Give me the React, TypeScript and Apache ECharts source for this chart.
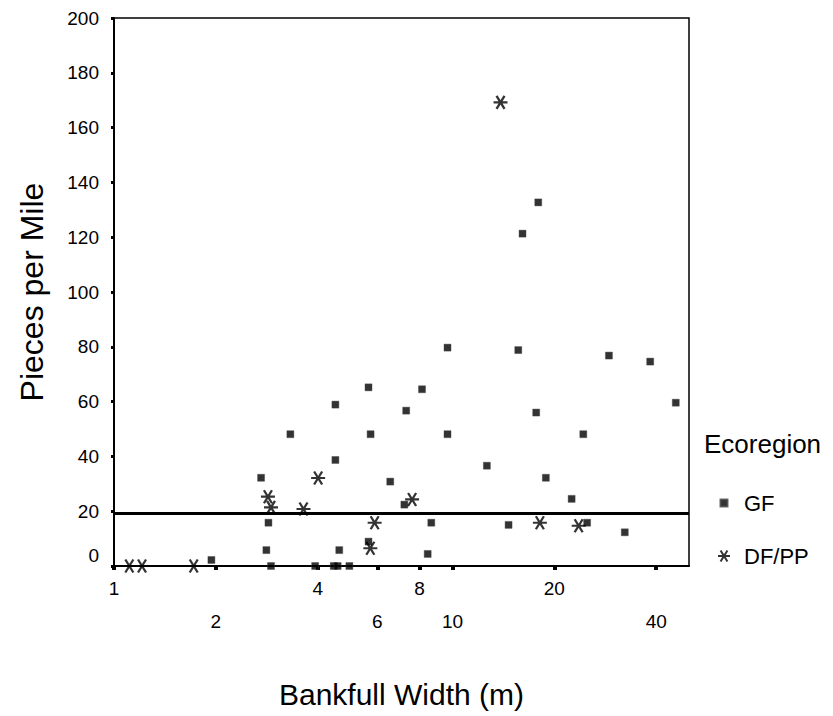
import React, { useEffect, useRef } from 'react';
import * as echarts from 'echarts';

// ---- data ----
const xTickValues = [1, 2, 4, 6, 8, 10, 20, 40];
const xMin = 1;
const xMax = 50;
const yMin = 0;
const yMax = 200;
const yStep = 20;
const referenceLevel = 19.3;

const seriesNames = ['GF', 'DF/PP'];
const legendTitle = 'Ecoregion';
const xTitle = 'Bankfull Width (m)';
const yTitle = 'Pieces per Mile';

const gfPoints: [number, number][] = [
  [1.94, 2.2], [2.72, 32.2], [2.86, 15.8], [2.82, 5.8], [2.91, 0],
  [3.32, 48.1], [3.93, 0], [4.46, 0], [4.58, 0], [4.96, 0],
  [4.51, 58.9], [4.51, 38.7], [4.63, 5.8], [5.65, 65.2], [5.73, 48.1],
  [5.65, 8.9], [6.55, 30.8], [7.3, 56.7], [7.21, 22.4], [8.13, 64.5],
  [8.66, 15.8], [8.45, 4.4], [9.67, 79.7], [9.67, 48.1], [12.64, 36.6],
  [14.65, 15.0], [15.65, 78.8], [16.11, 121.3], [17.93, 132.7], [17.68, 56.0],
  [18.88, 32.2], [22.5, 24.5], [24.36, 48.1], [25.0, 15.8], [29.0, 76.8],
  [32.3, 12.3], [38.4, 74.6], [45.7, 59.6],
];

const dfppPoints: [number, number][] = [
  [1.11, 0], [1.21, 0], [1.72, 0], [2.85, 25.3], [2.91, 21.4],
  [3.63, 20.8], [4.01, 32.1], [5.72, 6.5], [5.89, 15.8], [7.6, 24.3],
  [13.87, 169.2], [18.13, 15.8], [23.6, 14.7],
];

const ASTERISK = 'path://M-7,0L7,0M-4,-6.5L4,6.5M4,-6.5L-4,6.5';
const LEGEND_SQUARE = 'path://M0,0M12,12M2.5,2.5L9.5,2.5L9.5,9.5L2.5,9.5Z';
const FONT = '"Liberation Sans", Arial, Helvetica, sans-serif';

export default function App() {
  const ref = useRef<HTMLDivElement>(null);

  useEffect(() => {
    if (!ref.current) return;
    const chart = echarts.init(ref.current, undefined, { renderer: 'svg' });
    const option: any = {
      animation: false,
      backgroundColor: '#fff',
      textStyle: { fontFamily: FONT, color: '#000' },
      title: {
        text: legendTitle,
        left: 704,
        top: 431,
        padding: 0,
        textStyle: { fontFamily: FONT, fontSize: 26, fontWeight: 'normal', color: '#000' },
      },
      legend: {
        orient: 'vertical',
        left: 717,
        top: 492,
        padding: 0,
        itemWidth: 12,
        itemHeight: 12,
        itemGap: 31,
        textStyle: { fontFamily: FONT, fontSize: 22, color: '#000', padding: [0, 0, 0, 9], lineHeight: 22 },
        data: [
          { name: seriesNames[0], icon: LEGEND_SQUARE },
          { name: seriesNames[1], icon: ASTERISK },
        ],
      },
      grid: {
        left: 114,
        top: 18,
        right: 144,
        bottom: 150,
        show: true,
        borderColor: '#000',
        borderWidth: 1.5,
        backgroundColor: 'transparent',
      },
      xAxis: {
        type: 'log',
        logBase: 10,
        min: xMin,
        max: xMax,
        name: xTitle,
        nameLocation: 'middle',
        nameGap: 113,
        nameTextStyle: { fontFamily: FONT, fontSize: 30, color: '#000' },
        axisLine: { show: true, lineStyle: { color: '#000', width: 2 } },
        axisTick: {
          show: true,
          length: 4,
          customValues: xTickValues,
          lineStyle: { color: '#000', width: 4 },
        },
        splitLine: { show: false },
        minorTick: { show: false },
        axisLabel: {
          customValues: xTickValues,
          margin: 13,
          fontFamily: FONT,
          fontSize: 19,
          color: '#000',
          formatter: (v: number, i: number) => {
            const t = String(Math.round(v));
            const idx = xTickValues.findIndex((q) => Math.abs(q - v) < 1e-6);
            return (idx >= 0 ? idx : i) % 2 ? `{b|${t}}` : `{a|${t}}`;
          },
          rich: {
            a: { fontFamily: FONT, fontSize: 19, color: '#000' },
            b: { fontFamily: FONT, fontSize: 19, color: '#000', padding: [33, 0, 0, 0] },
          },
        },
      },
      yAxis: {
        type: 'value',
        min: yMin,
        max: yMax,
        interval: yStep,
        name: yTitle,
        nameLocation: 'middle',
        nameRotate: 90,
        nameGap: 66,
        nameTextStyle: { fontFamily: FONT, fontSize: 32, color: '#000' },
        axisLine: { show: true, lineStyle: { color: '#000', width: 2 } },
        axisTick: { show: true, length: 3, lineStyle: { color: '#000', width: 3 } },
        splitLine: { show: false },
        axisLabel: {
          margin: 15,
          fontFamily: FONT,
          fontSize: 19,
          color: '#000',
          formatter: (v: number) => (v === 0 ? '{z|0}' : String(v)),
          rich: {
            z: { fontFamily: FONT, fontSize: 19, color: '#000', padding: [0, 0, 22, 0] },
          },
        },
      },
      series: [
        {
          name: seriesNames[0],
          type: 'scatter',
          symbol: 'rect',
          symbolSize: 7,
          clip: false,
          itemStyle: { color: '#000', borderColor: '#444', borderWidth: 0.5 },
          data: gfPoints,
          z: 3,
          markLine: {
            silent: true,
            symbol: 'none',
            label: { show: false },
            lineStyle: { color: '#000', width: 3, type: 'solid' },
            data: [{ yAxis: referenceLevel }],
          },
        },
        {
          name: seriesNames[1],
          type: 'scatter',
          symbol: ASTERISK,
          symbolSize: [14, 13],
          clip: false,
          itemStyle: { color: '#000', borderColor: '#000', borderWidth: 2.2 },
          data: dfppPoints,
          z: 4,
        },
      ],
    };
    chart.setOption(option);
    return () => chart.dispose();
  }, []);

  return (
    <div
      ref={ref}
      style={{ position: 'fixed', left: 0, top: 0, width: 833, height: 716, background: '#fff' }}
    />
  );
}
